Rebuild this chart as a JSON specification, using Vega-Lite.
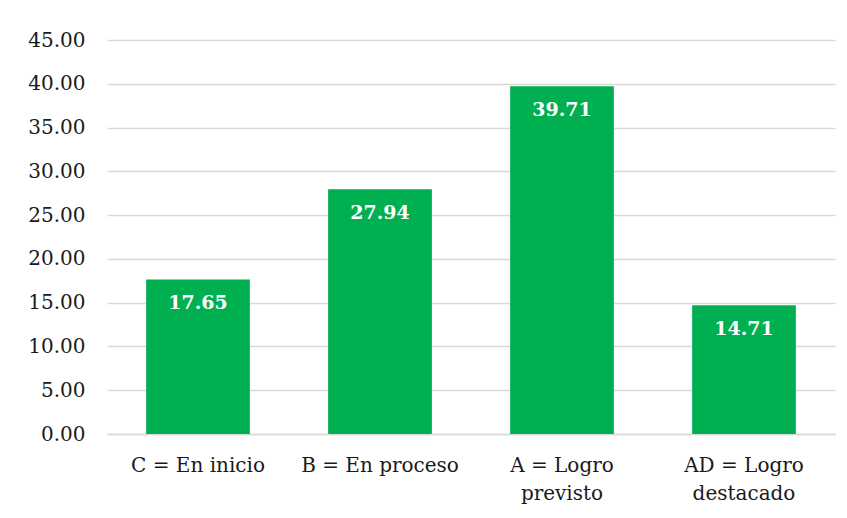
{
  "$schema": "https://vega.github.io/schema/vega-lite/v6.json",
  "width": 728,
  "height": 394,
  "autosize": {"type": "none"},
  "padding": {"left": 107, "top": 40, "right": 12, "bottom": 84},
  "background": "white",
  "config": {
    "view": {"stroke": null},
    "font": "DejaVu Serif"
  },
  "data": {
    "values": [
      {"nivel": "C = En inicio", "valor": 17.65},
      {"nivel": "B = En proceso", "valor": 27.94},
      {"nivel": "A = Logro|previsto", "valor": 39.71},
      {"nivel": "AD = Logro|destacado", "valor": 14.71}
    ]
  },
  "encoding": {
    "x": {
      "field": "nivel",
      "type": "nominal",
      "sort": null,
      "scale": {"paddingInner": 0.43, "paddingOuter": 0.215},
      "axis": {
        "title": null,
        "labelAngle": 0,
        "labelExpr": "split(datum.label, '|')",
        "labelFont": "DejaVu Serif",
        "labelFontSize": 20,
        "labelColor": "#1a1a1a",
        "labelLineHeight": 28,
        "labelPadding": 21,
        "ticks": false,
        "domainColor": "#d9d9d9",
        "domainWidth": 1.5
      }
    },
    "y": {
      "field": "valor",
      "type": "quantitative",
      "scale": {"domain": [0, 45]},
      "axis": {
        "title": null,
        "values": [0, 5, 10, 15, 20, 25, 30, 35, 40, 45],
        "format": ".2f",
        "labelFont": "DejaVu Serif",
        "labelFontSize": 20,
        "labelColor": "#1a1a1a",
        "labelPadding": 22,
        "ticks": false,
        "domain": false,
        "gridColor": "#d9d9d9",
        "gridWidth": 1.5
      }
    }
  },
  "layer": [
    {"mark": {"type": "bar", "color": "#00B050"}},
    {
      "mark": {
        "type": "text",
        "baseline": "middle",
        "dy": 24,
        "color": "white",
        "fontWeight": "bold",
        "fontSize": 19,
        "font": "DejaVu Serif"
      },
      "encoding": {
        "text": {"field": "valor", "type": "quantitative", "format": ".2f"}
      }
    }
  ]
}
